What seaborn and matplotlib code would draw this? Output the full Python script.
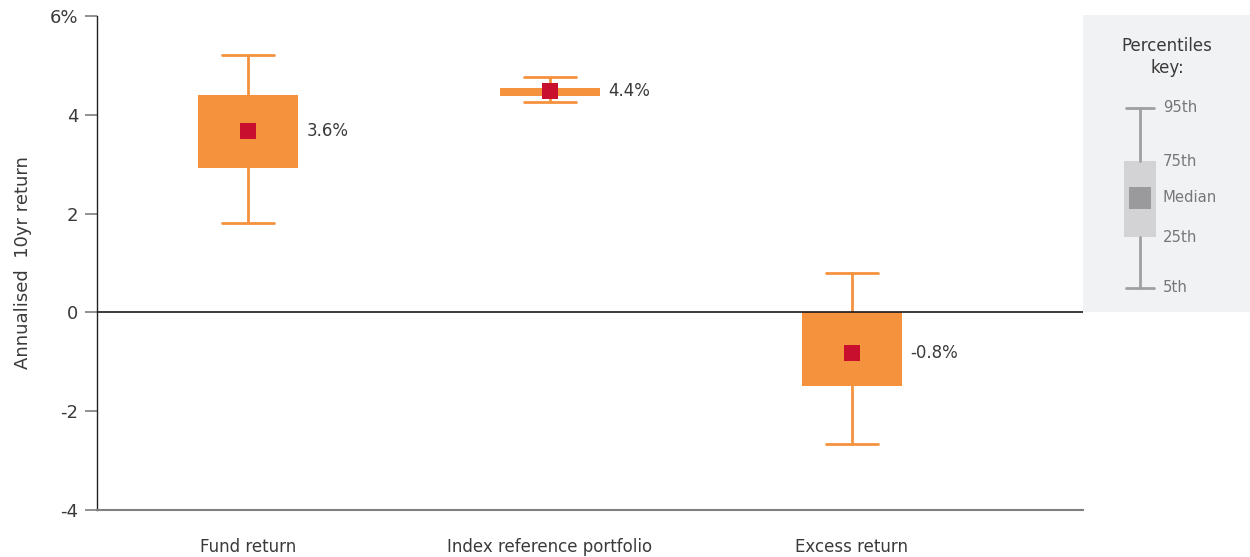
import matplotlib
matplotlib.use("Agg")
import matplotlib.pyplot as plt
import seaborn as sns
import pandas as pd

# ---- data ----
categories = ["Fund return", "Index reference portfolio", "Excess return"]
p5 = [1.81, 4.25, -2.67]
p25 = [2.92, 4.39, -1.49]
median = [3.67, 4.48, -0.82]
p75 = [4.40, 4.55, 0.0]
p95 = [5.21, 4.76, 0.79]
value_labels = ["3.6%", "4.4%", "-0.8%"]
yticks = [-4, -2, 0, 2, 4, 6]
ytick_labels = ["-4", "-2", "0", "2", "4", "6%"]
ylabel = "Annualised  10yr return"

key_title = "Percentiles\nkey:"
key_labels = ["95th", "75th", "Median", "25th", "5th"]
key_values = [204, 151, 114, 75, 24]   # schematic positions in the key panel

ORANGE = "#F5923E"
RED = "#C8102E"
TXT = "#3a3a3a"

sns.set_theme(style="white")
plt.rcParams["font.family"] = ["DejaVu Sans"]

fig = plt.figure(figsize=(12.5, 5.57), dpi=100)
ax = fig.add_axes([97 / 1250, 1 - 510 / 557, 986 / 1250, 494 / 557])

stats = [dict(whislo=p5[i], q1=p25[i], med=median[i], q3=p75[i], whishi=p95[i],
              label=categories[i]) for i in range(len(categories))]
ax.bxp(stats, positions=list(range(len(categories))), widths=0.334, capwidths=0.17,
       patch_artist=True, showfliers=False,
       boxprops=dict(facecolor=ORANGE, edgecolor="none", linewidth=0),
       whiskerprops=dict(color=ORANGE, linewidth=2),
       capprops=dict(color=ORANGE, linewidth=2),
       medianprops=dict(linewidth=0))

df = pd.DataFrame({"x": list(range(len(categories))), "median": median})
sns.scatterplot(data=df, x="x", y="median", marker="s", s=135, color=RED,
                edgecolor="none", linewidth=0, ax=ax, zorder=5, legend=False)

for i, lab in enumerate(value_labels):
    ax.annotate(lab, xy=(i + 0.167, median[i]), xytext=(8, 0),
                textcoords="offset pixels", ha="left", va="center",
                fontsize=12, color=TXT)

ax.axhline(0, color="#1a1a1a", lw=1.2, zorder=4)

ax.set_xlim(-0.5, 2.765)
ax.set_ylim(-4, 6)
ax.set_yticks(yticks)
ax.set_yticklabels(ytick_labels)
ax.set_xticks(list(range(len(categories))))
ax.set_xticklabels(categories)
ax.set_xlabel("")
ax.set_ylabel(ylabel, fontsize=13, color=TXT, labelpad=13)
ax.tick_params(axis="y", length=8.6, width=1.3, color="#888888", pad=5,
               labelsize=13, labelcolor=TXT, left=True)
ax.tick_params(axis="x", length=0, pad=20, labelsize=12, labelcolor=TXT)
for s in ["top", "right"]:
    ax.spines[s].set_visible(False)
ax.spines["left"].set_color("#222222")
ax.spines["left"].set_linewidth(1.0)
ax.spines["bottom"].set_color("#808080")
ax.spines["bottom"].set_linewidth(1.5)
ax.set_facecolor("white")

# ---- key panel ----
kax = fig.add_axes([1083 / 1250, 1 - 312 / 557, 167 / 1250, 297 / 557])
kax.set_facecolor("#F1F2F4")
for s in kax.spines.values():
    s.set_visible(False)
kax.set_xlim(0, 167)
kax.set_ylim(0, 297)
kstats = [dict(whislo=key_values[4], q1=key_values[3], med=key_values[2],
               q3=key_values[1], whishi=key_values[0], label="")]
kax.bxp(kstats, positions=[57], widths=32, capwidths=28, patch_artist=True,
        showfliers=False,
        boxprops=dict(facecolor="#D3D3D5", edgecolor="none", linewidth=0),
        whiskerprops=dict(color="#A0A0A0", linewidth=2),
        capprops=dict(color="#A0A0A0", linewidth=2),
        medianprops=dict(linewidth=0))
kdf = pd.DataFrame({"x": [57], "y": [key_values[2]]})
sns.scatterplot(data=kdf, x="x", y="y", marker="s", s=230, color="#9A9A9C",
                edgecolor="none", linewidth=0, ax=kax, zorder=5, legend=False)
kax.set_xlabel("")
kax.set_ylabel("")
kax.set_xticks([])
kax.set_yticks([])
for lab, v in zip(key_labels, key_values):
    kax.text(80, v, lab, ha="left", va="center", fontsize=10.7, color="#777777")
kax.text(84, 255, key_title, ha="center", va="center", fontsize=12,
         color=TXT, linespacing=1.35)

fig.savefig("out.png", dpi=100)
